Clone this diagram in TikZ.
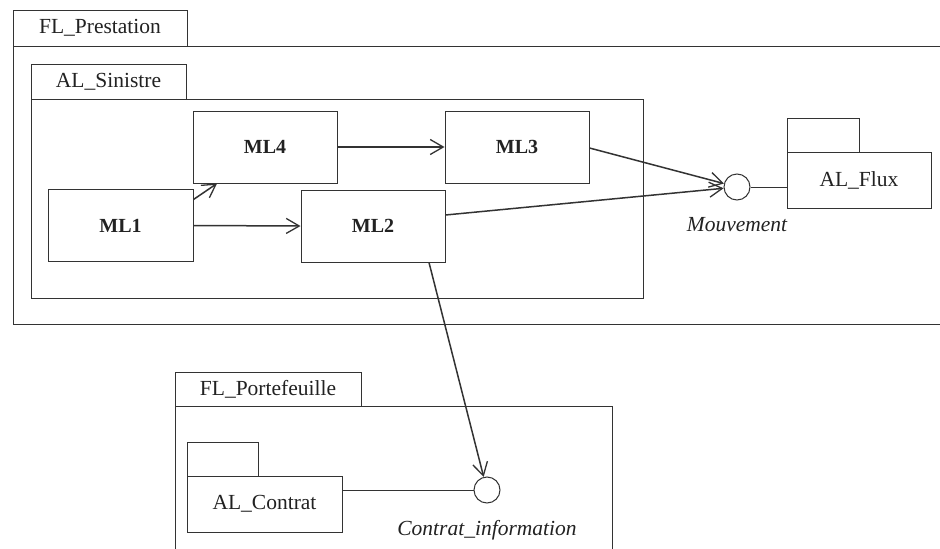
\documentclass[tikz,border=0pt]{standalone}
\usepackage{fontspec}
\setmainfont{Liberation Serif}
\usetikzlibrary{arrows.meta}
\definecolor{ink}{HTML}{333333}
\definecolor{txt}{HTML}{222222}
\tikzset{
  box/.style={draw=ink, line width=1pt, inner sep=0pt, text=txt},
  pkgtab/.style={box, font=\fontsize{21.5}{24}\selectfont},
  comp/.style={box, minimum width=144pt, minimum height=72pt, font=\fontsize{20}{24}\selectfont\bfseries},
  iface/.style={circle, draw=ink, line width=1pt, minimum size=26pt, inner sep=0pt},
  ifname/.style={text=txt, font=\fontsize{21.5}{24}\selectfont\itshape, inner sep=0pt},
  uses/.style={draw=ink, line width=1.5pt, -{Straight Barb[length=13pt,width=15pt,line width=1.3pt]}},
  link/.style={draw=ink, line width=1pt},
}
\begin{document}
\begin{tikzpicture}[x=1pt, y=-1pt]
\useasboundingbox[fill=white] (0,0) rectangle (940,549);
\clip (0,0) rectangle (940,549);

% FL_Prestation
\node[pkgtab, minimum width=174pt, minimum height=36pt] (fpTab) at (100,28) {FL\_Prestation};
\node[box, minimum width=940pt, minimum height=278pt] (fpBody) at (483,185) {};

% AL_Sinistre
\node[pkgtab, minimum width=155pt, minimum height=35pt] (asTab) at (108.5,81.5) {AL\_Sinistre};
\node[box, minimum width=612pt, minimum height=199pt] (asBody) at (337,198.5) {};

% components
\node[comp] (ml4) at (265,147) {ML4};
\node[comp] (ml3) at (517,147) {ML3};
\node[comp] (ml2) at (373,226) {ML2};
\node[comp, minimum width=145pt] (ml1) at (120.5,225.5) {ML1};

% Mouvement interface and AL_Flux
\node[iface] (mv) at (737,187) {};
\node[ifname] (mvName) at (737,225) {Mouvement};
\node[pkgtab, minimum width=72pt, minimum height=34pt] (flTab) at (823,135) {};
\node[pkgtab, minimum width=144pt, minimum height=56pt] (flBody) at (859,180) {AL\_Flux};

% FL_Portefeuille
\node[pkgtab, minimum width=186pt, minimum height=34pt] (ptTab) at (268,389) {FL\_Portefeuille};
\node[box, minimum width=437pt, minimum height=160pt] (ptBody) at (393.5,486) {};

% AL_Contrat
\node[pkgtab, minimum width=71pt, minimum height=34pt] (acTab) at (222.5,459) {};
\node[pkgtab, minimum width=155pt, minimum height=56pt] (acBody) at (264.5,504) {AL\_Contrat};

% Contrat_information interface
\node[iface] (ci) at (487,490) {};
\node[ifname] (ciName) at (487,530) {Contrat\_information};

% dependencies
\draw[uses] ([yshift=26pt]ml1.east) -- ([xshift=-48pt]ml4.south);
\draw[uses] (ml1.east) -- (ml2.west);
\draw[uses] (ml4.east) -- (ml3.west);
\draw[uses] ([yshift=-1pt]ml3.east) -- (mv);
\draw[uses] ([yshift=11pt]ml2.east) -- (mv);
\draw[uses] ([xshift=56pt]ml2.south) -- (ci);

% realisations
\draw[link] (mv.east) -- (mv.east -| flBody.west);
\draw[link] (ci.west) -- (ci.west -| acBody.east);
\end{tikzpicture}
\end{document}
